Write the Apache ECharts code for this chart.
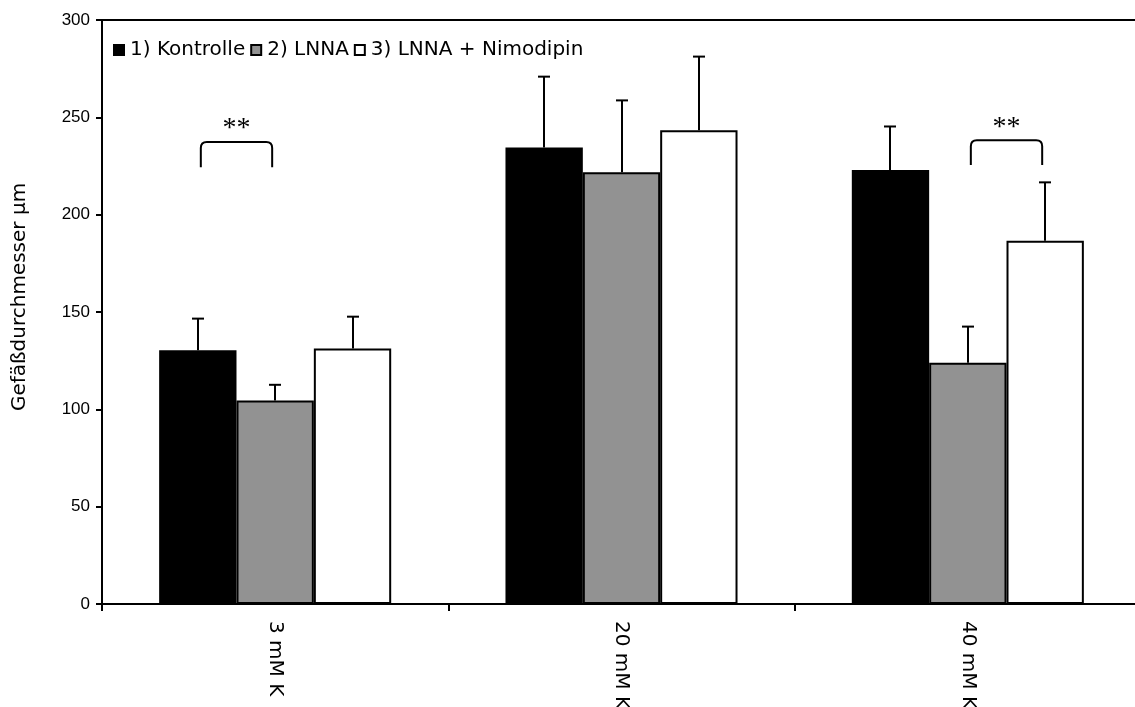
<!DOCTYPE html>
<html>
<head>
<meta charset="utf-8">
<script src="https://cdn.jsdelivr.net/npm/echarts@6/dist/echarts.min.js"></script>
<style>html,body{margin:0;padding:0;background:#fff}#c{width:1135px;height:707px}</style>
</head>
<body>
<div id="c"></div>
<script>
const categories = ['3 mM K', '20 mM K', '40 mM K'];
const seriesNames = ['1) Kontrolle', '2) LNNA', '3) LNNA + Nimodipin'];
const kontrolle = [130.3, 234.5, 223.0];
const kontrolleErr = [146.6, 270.9, 245.3];
const lnna = [104.5, 221.8, 123.9];
const lnnaErr = [112.6, 258.7, 142.5];
const nimodipin = [131.2, 243.4, 186.6];
const nimodipinErr = [147.6, 281.2, 216.6];
const yTicks = [0, 50, 100, 150, 200, 250, 300];
// significance brackets: [category index, left bar index, right bar index, top value, bottom value, label]
const brackets = [
  [0, 0, 1, 237.3, 224.3, '**'],
  [2, 1, 2, 238.2, 225.5, '**']
];

const colors = ['#000000', '#929292', '#ffffff'];
const means = [kontrolle, lnna, nimodipin];
const errs = [kontrolleErr, lnnaErr, nimodipinErr];
const GAP = 0.33;
const FONT = 'Liberation Sans, Arial, sans-serif';
const WIDE = 'DejaVu Sans, sans-serif';

const chart = echarts.init(document.getElementById('c'));

function barOffset(api, barIdx) {
  const band = api.size([1, 0])[0];
  const bw = band * (1 - GAP) / 3;
  return (barIdx - 1) * bw;
}

const barSeries = means.map((m, i) => ({
  name: seriesNames[i],
  type: 'bar',
  data: m,
  barGap: '0%',
  barCategoryGap: (GAP * 100) + '%',
  itemStyle: { color: colors[i], borderColor: '#000', borderWidth: 2 },
  z: 2
}));

const errSeries = errs.map((e, i) => ({
  type: 'custom',
  name: 'err' + i,
  data: e.map((v, k) => [k, means[i][k], v]),
  z: 1,
  silent: true,
  renderItem: function (params, api) {
    const k = api.value(0);
    const off = barOffset(api, i);
    const pTop = api.coord([k, api.value(2)]);
    const pBase = api.coord([k, api.value(1)]);
    const x = Math.round(pTop[0] + off);
    const cap = 6;
    return {
      type: 'group',
      children: [
        { type: 'line', shape: { x1: x, y1: pBase[1], x2: x, y2: pTop[1] }, style: { stroke: '#000', lineWidth: 2 } },
        { type: 'line', shape: { x1: x - cap, y1: pTop[1], x2: x + cap, y2: pTop[1] }, style: { stroke: '#000', lineWidth: 2 } }
      ]
    };
  }
}));

const bracketSeries = {
  type: 'custom',
  name: 'brackets',
  data: brackets.map(b => [b[0], b[1], b[2], b[3], b[4]]),
  z: 3,
  silent: true,
  renderItem: function (params, api) {
    const k = api.value(0);
    const b = brackets[params.dataIndex];
    const pT = api.coord([k, api.value(3)]);
    const pB = api.coord([k, api.value(4)]);
    const x1 = pT[0] + barOffset(api, api.value(1)) + 3;
    const x2 = pT[0] + barOffset(api, api.value(2)) - 3;
    const yt = pT[1], yb = pB[1];
    const r = 6;
    const path = `M${x1},${yb} L${x1},${yt + r} Q${x1},${yt} ${x1 + r},${yt} L${x2 - r},${yt} Q${x2},${yt} ${x2},${yt + r} L${x2},${yb}`;
    return {
      type: 'group',
      children: [
        { type: 'path', shape: { pathData: path }, style: { stroke: '#000', lineWidth: 2, fill: null } },
        { type: 'text', x: (x1 + x2) / 2, y: yt + 1, style: { text: b[5], fill: '#000', font: '28px "Liberation Serif", "DejaVu Serif", serif', align: 'center', verticalAlign: 'bottom' } }
      ]
    };
  }
};

chart.setOption({
  animation: false,
  backgroundColor: '#fff',
  grid: { left: 102, top: 20, width: 1039, bottom: 103, show: true, borderColor: '#000', borderWidth: 2, containLabel: false, outerBoundsMode: 'none' },
  legend: {
    data: seriesNames,
    left: 108, top: 35,
    orient: 'horizontal',
    icon: 'rect',
    itemWidth: 10, itemHeight: 10, itemGap: 5,
    textStyle: { fontFamily: WIDE, fontSize: 20, color: '#000', padding: [0, 0, 0, 1] }
  },
  xAxis: {
    type: 'category',
    data: categories,
    axisLine: { lineStyle: { color: '#000', width: 2 } },
    axisTick: { show: true, length: 7, lineStyle: { color: '#000', width: 2 } },
    axisLabel: { rotate: -90, fontFamily: WIDE, fontSize: 20, color: '#000', margin: 17 }
  },
  yAxis: {
    type: 'value',
    min: yTicks[0], max: yTicks[yTicks.length - 1], interval: 50,
    name: 'Gefäßdurchmesser µm',
    nameLocation: 'middle',
    nameGap: 72,
    nameTextStyle: { fontFamily: WIDE, fontSize: 20, color: '#000', padding: [0, 0, 0, 30] },
    axisLine: { show: true, lineStyle: { color: '#000', width: 2 } },
    axisTick: { show: true, length: 6, lineStyle: { color: '#000', width: 2 } },
    axisLabel: { fontFamily: FONT, fontSize: 17, color: '#000', margin: 12 },
    splitLine: { show: false }
  },
  series: [...barSeries, ...errSeries, bracketSeries]
});
</script>
</body>
</html>
